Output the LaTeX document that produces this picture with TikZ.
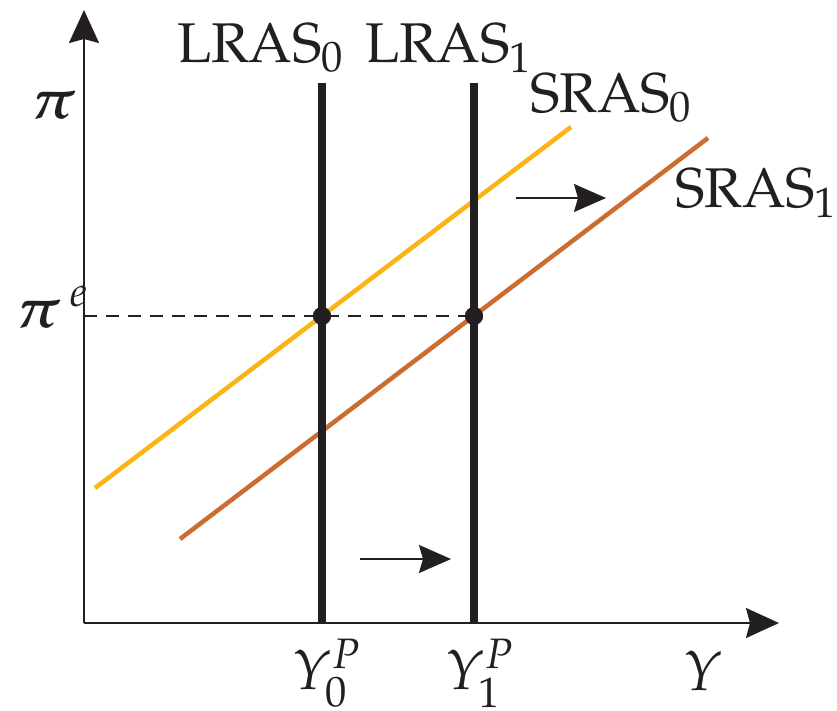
\documentclass[tikz,border=0pt]{standalone}
\usepackage{amsmath}
\usepackage[T1]{fontenc}
\usepackage{mathpazo}
\usetikzlibrary{arrows.meta}
\definecolor{inkblack}{RGB}{35,31,32}
\definecolor{srasyellow}{RGB}{250,180,20}
\definecolor{srasorange}{RGB}{204,108,48}
\tikzset{
  axisline/.style={draw=inkblack, line width=2pt, -{Stealth[length=33pt,width=30pt,inset=4pt]}},
  lras/.style={draw=inkblack, line width=8.5pt},
  srasA/.style={draw=srasyellow, line width=4.5pt},
  srasB/.style={draw=srasorange, line width=4.5pt},
  shiftarrow/.style={draw=inkblack, line width=2pt, -{Stealth[length=32pt,width=28pt,inset=4pt]}},
  lbl/.style={inner sep=0pt, anchor=base west, text=inkblack, font=\fontsize{56}{60}\selectfont},
  dot/.style={circle, fill=inkblack, inner sep=0pt, minimum size=18pt},
}
\begin{document}
\begin{tikzpicture}[x=1pt,y=-1pt]
\useasboundingbox (0,0) rectangle (837,710);
% axes
\coordinate (O) at (84,623);
\coordinate (ytop) at (84,10);
\coordinate (xend) at (779,623);
\draw[axisline] (O) -- (ytop);
\draw[axisline] (O) -- (xend);
% dashed expected inflation line
\coordinate (pe) at (84,316);
\node[dot] (E1) at (474,316) {};
\node[dot] (E0) at (322,316) {};
\draw[inkblack, line width=1.6pt, dash pattern=on 13pt off 9pt] (pe) -- (E1.center);
% SRAS curves
\coordinate (s0a) at (95,488);
\coordinate (s0b) at (571,127);
\coordinate (s1a) at (180,539);
\coordinate (s1b) at (708,138);
\draw[srasA] (s0a) -- (s0b);
\draw[srasB] (s1a) -- (s1b);
% LRAS lines
\coordinate (l0t) at (322,83);
\coordinate (l0b) at (322,623);
\coordinate (l1t) at (474,83);
\coordinate (l1b) at (474,623);
\draw[lras] (l0t) -- (l0b);
\draw[lras] (l1t) -- (l1b);
\node[dot] at (E0) {};
\node[dot] at (E1) {};
% shift arrows
\coordinate (a1s) at (516,198);
\coordinate (a1e) at (606,198);
\coordinate (a2s) at (360,559);
\coordinate (a2e) at (451,559);
\draw[shiftarrow] (a1s) -- (a1e);
\draw[shiftarrow] (a2s) -- (a2e);
% labels
\node[lbl] (Llras0) at (177,62) {LRAS$_0$};
\node[lbl] (Llras1) at (365,62) {LRAS$_1$};
\node[lbl] (Lsras0) at (530,112) {SRAS$_0$};
\node[lbl] (Lsras1) at (675,207) {SRAS$_1$};
\node[lbl] (Lpi) at (31,118) {$\boldsymbol{\pi}$};
\node[lbl] (Lpie) at (16,327) {$\boldsymbol{\pi}^{\,e}$};
\node[lbl] (LY0) at (293,689) {$Y_0^P$};
\node[lbl] (LY1) at (446,689) {$Y_1^P$};
\node[lbl] (LY) at (684,690) {$Y$};
\end{tikzpicture}
\end{document}
